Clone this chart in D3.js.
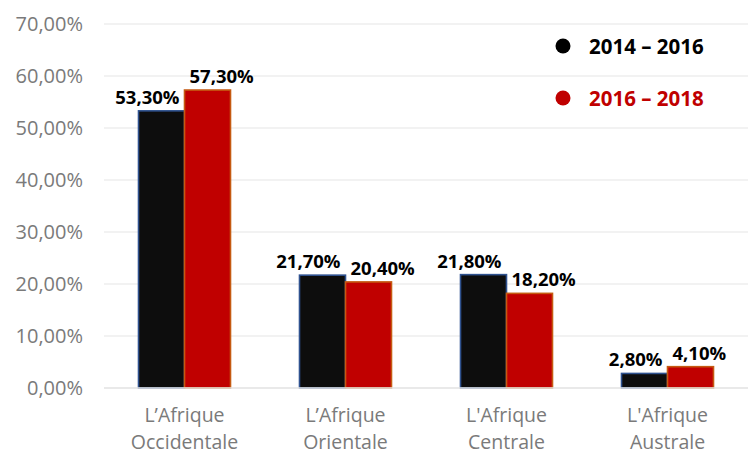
<!DOCTYPE html>
<html><head><meta charset="utf-8">
<script src="https://cdn.jsdelivr.net/npm/d3@7"></script>
<style>body{margin:0;background:#fff}svg{display:block}</style>
</head><body>
<script>
const categories = [["L’Afrique","Occidentale"],["L’Afrique","Orientale"],["L'Afrique","Centrale"],["L'Afrique","Australe"]];
const series2014 = [53.3, 21.7, 21.8, 2.8];
const series2016 = [57.3, 20.4, 18.2, 4.1];
const seriesNames = ["2014 – 2016", "2016 – 2018"];
const yTicks = [0,10,20,30,40,50,60,70];

const W=755,H=455;
const svg=d3.select("body").append("svg").attr("width",W).attr("height",H);
const font="'Open Sans', sans-serif";
const x=d3.scaleBand().domain(d3.range(categories.length)).range([104,748]);
const y=d3.scaleLinear().domain([0,70]).range([388,24]);
const fmt=v=>v.toFixed(2).replace(".",",")+"%";

// gridlines
svg.append("g").selectAll("line").data(yTicks).join("line")
  .attr("x1",104).attr("x2",748).attr("y1",d=>y(d)).attr("y2",d=>y(d))
  .attr("stroke","#eeeeee").attr("stroke-width",1.5);
// y axis labels
const yAxis=d3.axisLeft(y).tickValues(yTicks).tickFormat(fmt).tickSize(0).tickPadding(0);
const ga=svg.append("g").attr("transform","translate(83,0)").call(yAxis);
ga.select(".domain").remove();
ga.selectAll("text").attr("font-family",font).attr("font-size",20).attr("fill","#7a7a7a");

const bw=46;
const colors=["#0d0d0d","#c00000"], strokes=["#2f528f","#c55a11"];
const data=[series2014,series2016];
const labels=[[],[]];
data.forEach((s,si)=>{
  const g=svg.append("g");
  g.selectAll("rect").data(s).join("rect")
    .attr("x",(d,i)=>x(i)+x.bandwidth()/2-bw+si*bw)
    .attr("y",d=>y(d)).attr("width",bw).attr("height",d=>y(0)-y(d))
    .attr("fill",colors[si]).attr("stroke",strokes[si]).attr("stroke-width",1.6);
  g.selectAll("text").data(s).join("text")
    .attr("x",(d,i)=>x(i)+x.bandwidth()/2-bw/2+si*bw)
    .attr("y",d=>y(d)-7)
    .attr("text-anchor","middle").attr("font-family",font).attr("font-weight","bold")
    .attr("font-size",18.5).attr("fill","#000").text(d=>fmt(d))
    .each(function(){labels[si].push(this);});
});
// push overlapping labels apart
const gap=10;
categories.forEach((c,i)=>{
  const a=labels[0][i], b=labels[1][i];
  const wa=a.getComputedTextLength(), wb=b.getComputedTextLength();
  const need=(wa+wb)/2+gap-bw;
  if(need>0){
    d3.select(a).attr("x",+a.getAttribute("x")-need/2);
    d3.select(b).attr("x",+b.getAttribute("x")+need/2);
  }
});
// baseline
svg.append("line").attr("x1",104).attr("x2",748).attr("y1",y(0)).attr("y2",y(0))
  .attr("stroke","#e6e6e6").attr("stroke-width",1.5);

// category labels
const xAxis=svg.append("g");
categories.forEach((c,i)=>{
  const cx=x(i)+x.bandwidth()/2;
  c.forEach((line,li)=>{
    xAxis.append("text").attr("x",cx).attr("y",422+li*27).attr("text-anchor","middle")
      .attr("font-family",font).attr("font-size",19.5).attr("fill","#7a7a7a").text(line);
  });
});

// legend
const lg=svg.append("g");
const legColors=["#000000","#c00000"];
seriesNames.forEach((n,i)=>{
  lg.append("circle").attr("cx",563).attr("cy",46+i*52).attr("r",7.5).attr("fill",legColors[i]);
  lg.append("text").attr("x",589).attr("y",46+i*52+7.5).attr("font-family",font).attr("font-weight","bold")
    .attr("font-size",20.5).attr("fill",legColors[i]).text(n);
});
</script>
</body></html>
